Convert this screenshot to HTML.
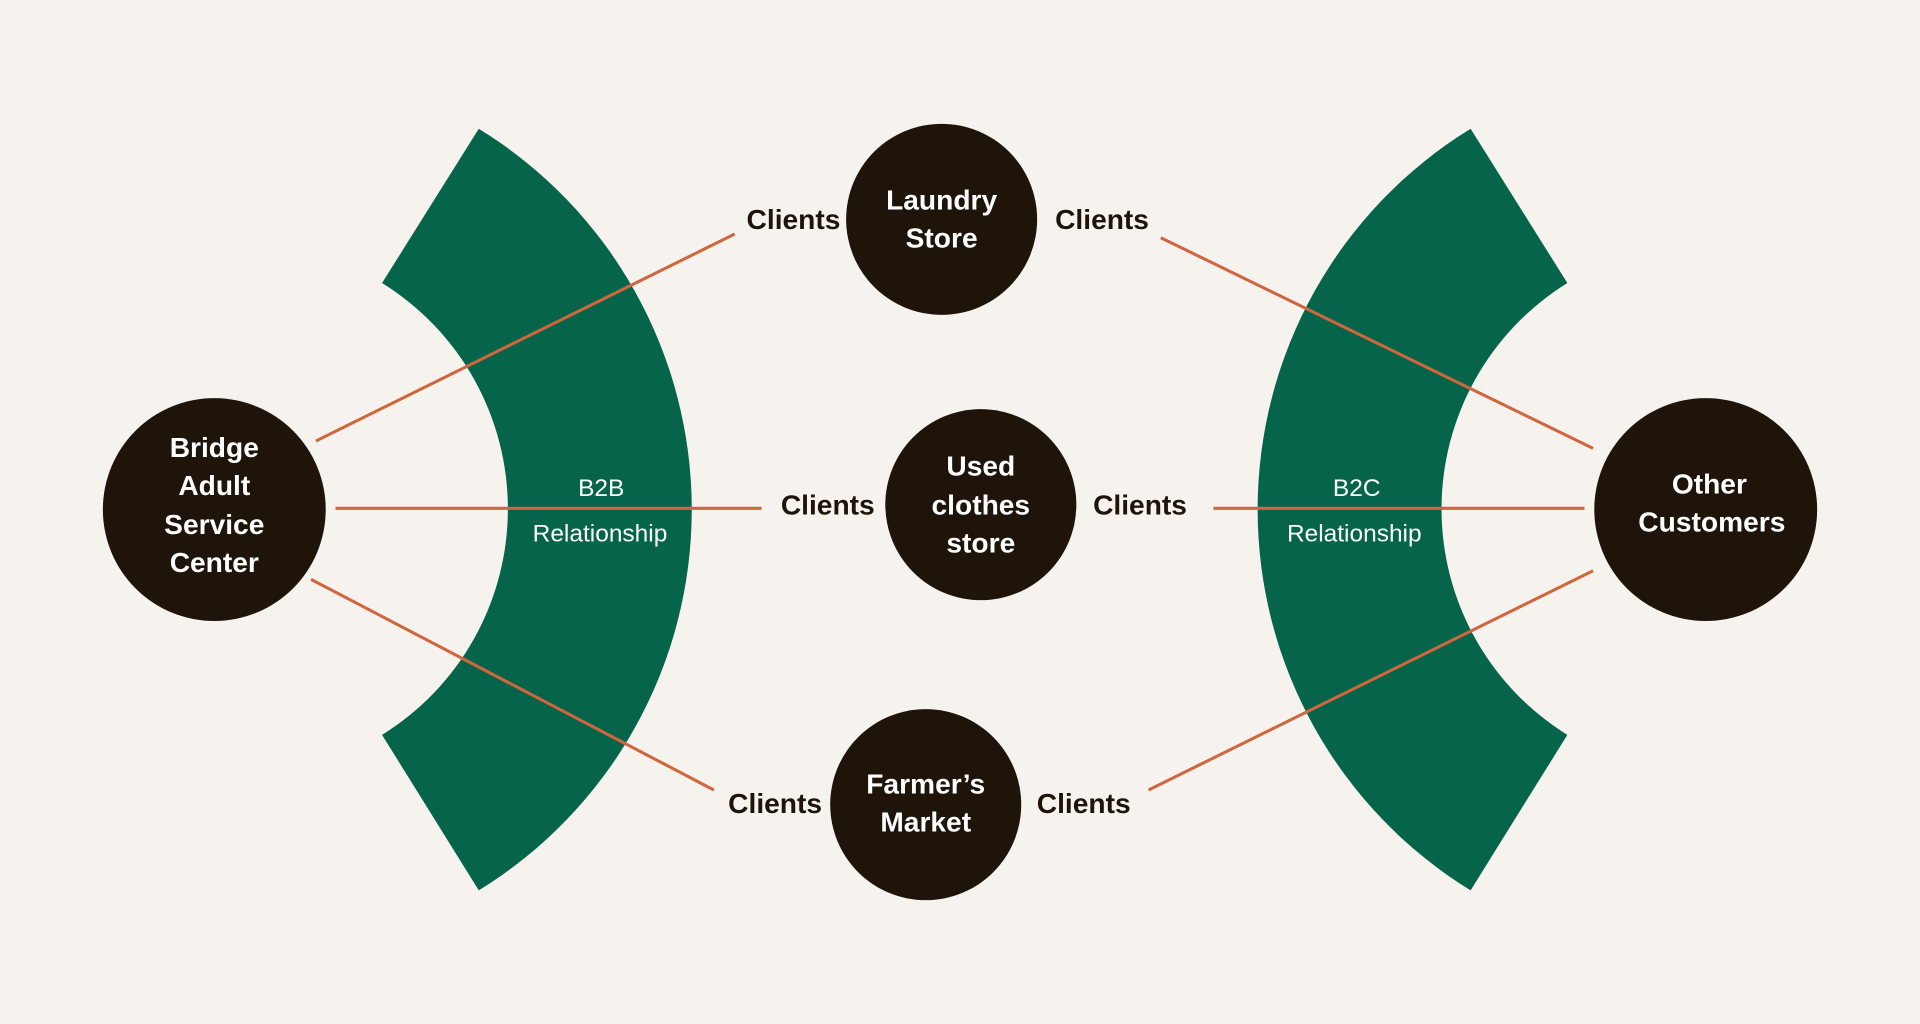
<!DOCTYPE html>
<html><head><meta charset="utf-8"><style>
html,body{margin:0;padding:0;background:#f6f3ee;}
svg{display:block;}
.b{font-family:"Liberation Sans",sans-serif;font-weight:bold;font-size:23px;fill:#1e140a;text-anchor:middle;}
.w{font-family:"Liberation Sans",sans-serif;font-weight:bold;font-size:23px;fill:#fff;text-anchor:middle;}
.g{font-family:"Liberation Sans",sans-serif;font-size:20px;fill:#fff;text-anchor:middle;}
</style></head><body>
<svg width="1920" height="1024" viewBox="0 0 1568 836" xmlns="http://www.w3.org/2000/svg">
<rect width="1568" height="836" fill="#f6f3ee"/>
<path d="M391 105 A365 365 0 0 1 391 727 L312 600 A217 217 0 0 0 312 231 Z" fill="#05644a"/>
<path d="M1201 105 A365 365 0 0 0 1201 727 L1280 600 A217 217 0 0 1 1280 231 Z" fill="#05644a"/>
<g stroke="#d0663e" stroke-width="2.5">
<line x1="258" y1="360" x2="600" y2="191"/>
<line x1="274" y1="415" x2="622" y2="415"/>
<line x1="254" y1="473" x2="583" y2="645"/>
<line x1="948" y1="194" x2="1301" y2="366"/>
<line x1="991" y1="415" x2="1294" y2="415"/>
<line x1="938" y1="645" x2="1301" y2="466"/>
</g>
<text class="g" x="491" y="405">B2B</text>
<text class="g" x="490" y="442">Relationship</text>
<text class="g" x="1108" y="405">B2C</text>
<text class="g" x="1106" y="442">Relationship</text>
<g fill="#1e140a">
<circle cx="175" cy="416" r="91"/>
<circle cx="1393" cy="416" r="91"/>
<circle cx="769" cy="179" r="78"/>
<circle cx="801" cy="412" r="78"/>
<circle cx="756" cy="657" r="78"/>
</g>
<text class="w" x="175" y="373">Bridge</text>
<text class="w" x="175" y="404">Adult</text>
<text class="w" x="175" y="436">Service</text>
<text class="w" x="175" y="467">Center</text>
<text class="w" x="1396" y="403">Other</text>
<text class="w" x="1398" y="434">Customers</text>
<text class="w" x="769" y="171">Laundry</text>
<text class="w" x="769" y="202">Store</text>
<text class="w" x="801" y="388">Used</text>
<text class="w" x="801" y="420">clothes</text>
<text class="w" x="801" y="451">store</text>
<text class="w" x="756" y="648">Farmer’s</text>
<text class="w" x="756" y="679">Market</text>
<text class="b" x="648" y="187">Clients</text>
<text class="b" x="900" y="187">Clients</text>
<text class="b" x="676" y="420">Clients</text>
<text class="b" x="931" y="420">Clients</text>
<text class="b" x="633" y="664">Clients</text>
<text class="b" x="885" y="664">Clients</text>
</svg>
</body></html>
